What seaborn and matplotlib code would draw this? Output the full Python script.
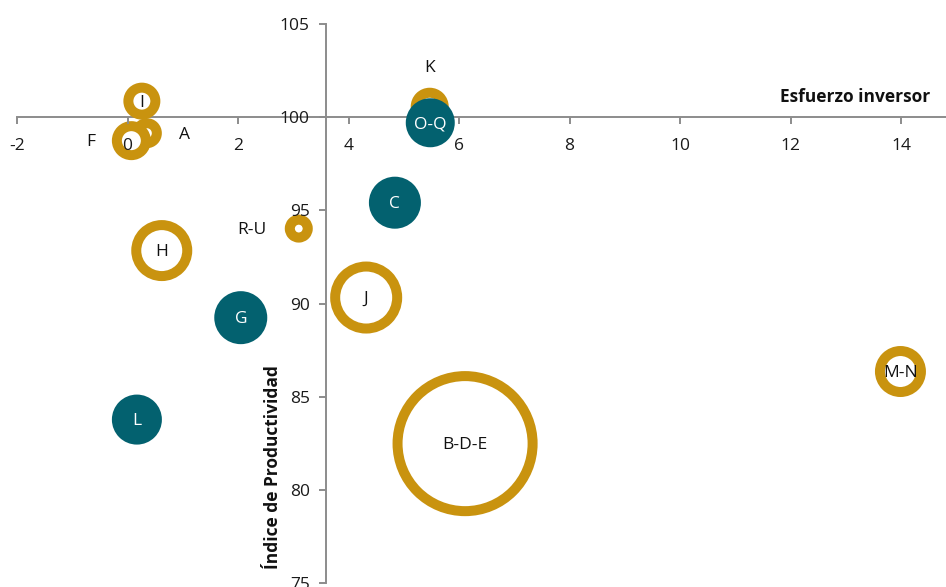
import matplotlib
matplotlib.use("Agg")
import matplotlib.pyplot as plt
import numpy as np
import pandas as pd
import seaborn as sns

# Sector codes, investment effort (x), productivity index (y) and bubble weight
sectores = ["I", "A", "F", "K", "R-U", "H", "J", "B-D-E", "M-N", "O-Q", "C", "G", "L"]
esfuerzo = [0.26, 0.35, 0.07, 5.47, 3.10, 0.62, 4.32, 6.11, 13.99, 5.48, 4.84, 2.05, 0.17]
productividad = [100.86, 99.14, 98.74, 100.56, 94.02, 92.84, 90.32, 82.48, 86.35, 99.70, 95.41, 89.24, 83.77]
peso = [1.82, 1.00, 2.10, 1.96, 0.81, 6.50, 9.61, 45.6, 4.20, 3.80, 4.41, 4.62, 4.00]
grupo = ["contorno"] * 9 + ["relleno"] * 4

x_ticks = [-2, 0, 2, 4, 6, 8, 10, 12, 14]
y_ticks = [75, 80, 85, 90, 95, 100, 105]
x_titulo = "Esfuerzo inversor"
y_titulo = "Índice de Productividad"

df = pd.DataFrame({"sector": sectores, "esfuerzo": esfuerzo,
                   "productividad": productividad, "peso": peso, "grupo": grupo})

ORO = "#C9930F"
PETROLEO = "#03616F"
EJE = "#8C8C8C"
BORDE = 7.2          # ring width in points
ESCALA = 207.36      # marker area (pt^2) per unit of weight

sns.set_theme(style="white")
plt.rcParams["font.family"] = ["Open Sans", "DejaVu Sans"]
plt.rcParams["axes.unicode_minus"] = False

fig = plt.figure(figsize=(9.46, 5.87), dpi=100)
ax = fig.add_axes([17 / 946, 4 / 587, 929 / 946, 559 / 587])

tam = dict(size="peso", sizes=(0, 50 * ESCALA), size_norm=(0, 50), legend=False)
anillos = df[df["grupo"] == "contorno"]
llenos = df[df["grupo"] == "relleno"]
sns.scatterplot(data=anillos, x="esfuerzo", y="productividad", color="white",
                edgecolor=ORO, linewidth=BORDE, zorder=3, ax=ax, **tam)
sns.scatterplot(data=llenos, x="esfuerzo", y="productividad", color=PETROLEO,
                edgecolor=PETROLEO, linewidth=BORDE, zorder=3, ax=ax, **tam)

ax.set_xlim(-2, -2 + 929 / 55.25)
ax.set_ylim(75, 105)
ax.set_xticks(x_ticks)
ax.set_yticks(y_ticks)
ax.set_xlabel("")
ax.set_ylabel("")
ax.grid(False)

# Axes cross inside the plot: vertical at x = 3.6, horizontal at y = 100
for lado in ("top", "right"):
    ax.spines[lado].set_visible(False)
ax.spines["left"].set_position(("data", 3.6))
ax.spines["bottom"].set_position(("data", 100))
for lado in ("left", "bottom"):
    ax.spines[lado].set_color(EJE)
    ax.spines[lado].set_linewidth(1.4)
    ax.spines[lado].set_zorder(2.5)

ax.tick_params(axis="both", which="major", direction="out", length=5, width=1.4,
               color=EJE, labelsize=12.5, labelcolor="#1A1A1A")
ax.tick_params(axis="x", pad=10, bottom=True)
ax.tick_params(axis="y", pad=7, left=True)
ax.xaxis.set_zorder(4)
ax.yaxis.set_zorder(4)
ax.set_facecolor("white")

# Labels: most centred on the bubble, a few moved aside
desplazamiento = {"F": (-29, 0), "A": (27, 0), "K": (0, 29), "R-U": (-34, 0)}
for _, fila in df.iterrows():
    dx, dy = desplazamiento.get(fila["sector"], (0, 0))
    dentro = (dx, dy) == (0, 0)
    color = "white" if (fila["grupo"] == "relleno" and dentro) else "#111111"
    ax.annotate(fila["sector"], (fila["esfuerzo"], fila["productividad"]),
                xytext=(dx, dy - 1), textcoords="offset points", ha="center",
                va="center", fontsize=12.5, color=color, zorder=5)

fig.text(930 / 946, 1 - 97 / 587, x_titulo, ha="right", va="center",
         fontsize=12.5, fontweight="bold", color="#111111")
fig.text(273 / 946, 1 - 467 / 587, y_titulo, ha="center", va="center",
         rotation=90, fontsize=12.5, fontweight="bold", color="#111111")

fig.savefig("out.png", dpi=100, facecolor="white")
